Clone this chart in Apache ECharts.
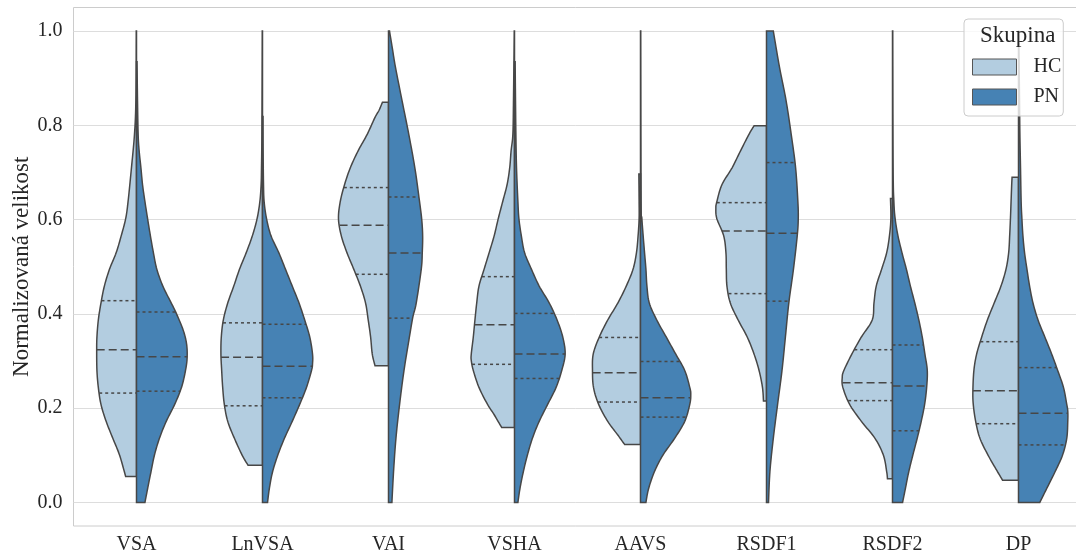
<!DOCTYPE html>
<html><head><meta charset="utf-8">
<script src="https://cdn.jsdelivr.net/npm/echarts@6/dist/echarts.min.js"></script>
<style>html,body{margin:0;padding:0;background:#fff}#chart{width:1076px;height:557px}</style>
</head><body><div id="chart"></div>
<script>
// ---------- data ----------
const categories = ['VSA', 'LnVSA', 'VAI', 'VSHA', 'AAVS', 'RSDF1', 'RSDF2', 'DP'];
const groups = ['HC', 'PN'];
const yTickValues = [0, 0.2, 0.4, 0.6, 0.8, 1.0];
const yTickLabels = ['0.0', '0.2', '0.4', '0.6', '0.8', '1.0'];

// density profiles: [value, half-width in category units], from data min to data max
const hcDensity = [
  [[0.055,0.086],[0.100,0.134],[0.136,0.188],[0.172,0.241],[0.208,0.282],[0.244,0.303],[0.280,0.314],[0.323,0.316],[0.351,0.314],[0.387,0.303],[0.423,0.282],[0.459,0.255],[0.495,0.214],[0.530,0.161],[0.566,0.121],[0.602,0.086],[0.638,0.067],[0.710,0.040],[0.781,0.016],[0.853,0.005],[1.0,0.002]],
  [[0.079,0.115],[0.100,0.161],[0.136,0.223],[0.172,0.276],[0.208,0.303],[0.244,0.316],[0.280,0.324],[0.315,0.330],[0.351,0.327],[0.387,0.311],[0.423,0.276],[0.459,0.228],[0.495,0.182],[0.530,0.129],[0.566,0.080],[0.602,0.043],[0.638,0.021],[0.674,0.011],[0.710,0.008],[0.781,0.005],[1.0,0.002]],
  [[0.290,0.107],[0.315,0.129],[0.351,0.142],[0.387,0.161],[0.423,0.182],[0.459,0.223],[0.495,0.276],[0.530,0.330],[0.566,0.375],[0.602,0.397],[0.638,0.383],[0.674,0.349],[0.710,0.303],[0.746,0.241],[0.781,0.169],[0.817,0.107],[0.832,0.075],[0.849,0.048]],
  [[0.159,0.102],[0.186,0.161],[0.208,0.214],[0.244,0.282],[0.280,0.327],[0.301,0.343],[0.315,0.343],[0.351,0.327],[0.387,0.314],[0.423,0.300],[0.459,0.282],[0.495,0.241],[0.530,0.201],[0.566,0.161],[0.602,0.129],[0.638,0.094],[0.674,0.059],[0.710,0.038],[0.746,0.027],[0.781,0.013],[0.853,0.008],[1.0,0.002]],
  [[0.123,0.126],[0.143,0.180],[0.172,0.260],[0.208,0.332],[0.244,0.373],[0.280,0.381],[0.315,0.375],[0.351,0.327],[0.387,0.260],[0.423,0.180],[0.459,0.113],[0.495,0.059],[0.530,0.032],[0.566,0.019],[0.602,0.011],[0.638,0.011],[0.697,0.013]],
  [[0.215,0.024],[0.244,0.032],[0.280,0.059],[0.315,0.099],[0.351,0.153],[0.387,0.225],[0.423,0.287],[0.459,0.314],[0.495,0.319],[0.530,0.322],[0.566,0.340],[0.602,0.394],[0.624,0.402],[0.638,0.394],[0.674,0.354],[0.710,0.273],[0.746,0.206],[0.781,0.139],[0.799,0.099]],
  [[0.050,0.040],[0.065,0.046],[0.100,0.072],[0.136,0.139],[0.172,0.247],[0.208,0.340],[0.244,0.394],[0.265,0.399],[0.280,0.386],[0.315,0.322],[0.351,0.247],[0.387,0.161],[0.423,0.147],[0.459,0.129],[0.495,0.086],[0.530,0.046],[0.566,0.024],[0.602,0.013],[0.645,0.016]],
  [[0.047,0.126],[0.065,0.166],[0.100,0.241],[0.136,0.306],[0.172,0.340],[0.208,0.359],[0.237,0.362],[0.280,0.354],[0.315,0.332],[0.351,0.292],[0.387,0.247],[0.423,0.193],[0.459,0.139],[0.495,0.099],[0.530,0.078],[0.566,0.070],[0.602,0.064],[0.638,0.059],[0.674,0.054],[0.690,0.051]]
];
const pnDensity = [
  [[0,0.067],[0.029,0.088],[0.065,0.115],[0.100,0.142],[0.136,0.182],[0.172,0.236],[0.208,0.303],[0.244,0.357],[0.280,0.389],[0.308,0.402],[0.337,0.397],[0.366,0.370],[0.401,0.316],[0.423,0.276],[0.459,0.209],[0.495,0.161],[0.530,0.134],[0.566,0.110],[0.602,0.088],[0.638,0.067],[0.674,0.048],[0.710,0.035],[0.746,0.021],[0.781,0.013],[0.853,0.008],[0.935,0.004]],
  [[0,0.040],[0.029,0.054],[0.065,0.080],[0.100,0.121],[0.136,0.174],[0.172,0.236],[0.208,0.295],[0.244,0.349],[0.280,0.389],[0.294,0.397],[0.315,0.397],[0.351,0.375],[0.387,0.335],[0.423,0.290],[0.459,0.236],[0.495,0.182],[0.530,0.129],[0.566,0.067],[0.602,0.032],[0.638,0.013],[0.674,0.008],[0.746,0.005],[0.819,0.004]],
  [[0,0.027],[0.065,0.040],[0.136,0.059],[0.208,0.088],[0.280,0.123],[0.351,0.166],[0.393,0.193],[0.423,0.220],[0.495,0.260],[0.530,0.268],[0.566,0.271],[0.602,0.263],[0.649,0.241],[0.710,0.209],[0.781,0.161],[0.853,0.107],[0.925,0.054],[0.961,0.032],[1.0,0.008]],
  [[0,0.027],[0.029,0.043],[0.065,0.070],[0.100,0.102],[0.136,0.142],[0.172,0.196],[0.208,0.263],[0.244,0.330],[0.280,0.375],[0.315,0.402],[0.351,0.383],[0.387,0.338],[0.423,0.276],[0.459,0.196],[0.495,0.134],[0.530,0.080],[0.566,0.054],[0.602,0.035],[0.638,0.027],[0.710,0.016],[0.781,0.011],[0.853,0.008],[0.935,0.005]],
  [[0,0.043],[0.029,0.064],[0.065,0.110],[0.100,0.177],[0.136,0.271],[0.172,0.351],[0.208,0.391],[0.229,0.399],[0.244,0.391],[0.280,0.351],[0.315,0.279],[0.351,0.204],[0.387,0.129],[0.423,0.070],[0.459,0.051],[0.495,0.043],[0.530,0.032],[0.566,0.021],[0.602,0.011],[0.638,0.005],[1.0,0.002]],
  [[0,0.016],[0.065,0.027],[0.136,0.054],[0.208,0.088],[0.280,0.123],[0.351,0.150],[0.423,0.177],[0.495,0.214],[0.566,0.244],[0.602,0.252],[0.638,0.249],[0.710,0.231],[0.781,0.196],[0.853,0.155],[0.925,0.102],[1.0,0.054]],
  [[0,0.080],[0.029,0.102],[0.065,0.129],[0.100,0.161],[0.136,0.196],[0.172,0.228],[0.208,0.255],[0.244,0.271],[0.280,0.276],[0.315,0.257],[0.351,0.236],[0.387,0.209],[0.423,0.177],[0.459,0.142],[0.495,0.110],[0.530,0.075],[0.566,0.043],[0.602,0.021],[0.638,0.011],[0.710,0.005],[1.0,0.002]],
  [[0,0.169],[0.029,0.223],[0.065,0.290],[0.100,0.349],[0.136,0.383],[0.172,0.391],[0.194,0.391],[0.208,0.383],[0.244,0.357],[0.280,0.311],[0.315,0.263],[0.351,0.209],[0.387,0.155],[0.423,0.115],[0.459,0.088],[0.495,0.067],[0.530,0.048],[0.566,0.035],[0.602,0.027],[0.638,0.021],[0.710,0.016],[0.781,0.011],[0.853,0.008],[1.0,0.002]]
];
// quartiles [Q1, median, Q3]
const hcQuartiles = [[0.232,0.324,0.428],[0.205,0.308,0.381],[0.484,0.588,0.668],[0.293,0.377,0.479],[0.213,0.275,0.350],[0.443,0.576,0.636],[0.216,0.254,0.324],[0.167,0.237,0.341]];
const pnQuartiles = [[0.236,0.309,0.404],[0.222,0.289,0.378],[0.391,0.529,0.648],[0.263,0.315,0.401],[0.181,0.222,0.299],[0.427,0.571,0.721],[0.152,0.247,0.334],[0.122,0.189,0.286]];

// ---------- styling ----------
const FONT = "'Liberation Serif','Times New Roman',serif";
const TEXT = '#262626';
const EDGE = '#474747';
const COLORS = { HC: '#b3cde0', PN: '#4682b4' };

function spline(p, n) {
  const out = [];
  for (let i = 0; i < p.length - 1; i++) {
    const p0 = p[Math.max(i - 1, 0)], p1 = p[i], p2 = p[i + 1], p3 = p[Math.min(i + 2, p.length - 1)];
    for (let s = 0; s < n; s++) {
      const t = s / n, t2 = t * t, t3 = t2 * t;
      out.push([0, 1].map(k => 0.5 * ((2 * p1[k]) + (-p0[k] + p2[k]) * t +
        (2 * p0[k] - 5 * p1[k] + 4 * p2[k] - p3[k]) * t2 +
        (-p0[k] + 3 * p1[k] - 3 * p2[k] + p3[k]) * t3)));
    }
  }
  out.push(p[p.length - 1].slice());
  return out;
}
function widthAt(prof, v) {
  for (let i = 0; i < prof.length - 1; i++) {
    const a = prof[i], b = prof[i + 1];
    if (v >= a[0] && v <= b[0]) return a[1] + (b[1] - a[1]) * (v - a[0]) / (b[0] - a[0]);
  }
  return 0;
}
function makeRender(profiles, quartiles, side, fill) {
  return function (params, api) {
    const i = api.value(0);
    const prof = profiles[i];
    const band = api.size([1, 0])[0];
    const cx = api.coord([i, 0])[0];
    const raw = prof.map(d => [cx + side * d[1] * band, api.coord([i, d[0]])[1]]);
    const curve = spline(raw, 10).map(pt => [side < 0 ? Math.min(pt[0], cx) : Math.max(pt[0], cx), pt[1]]);
    const yBot = raw[0][1], yTop = raw[raw.length - 1][1];
    const poly = [[cx, yBot]].concat(curve, [[cx, yTop]]);
    const children = [{
      type: 'polygon', shape: { points: poly },
      style: { fill: fill, stroke: EDGE, lineWidth: 1.5, lineJoin: 'miter' }
    }];
    quartiles[i].forEach((q, k) => {
      const w = widthAt(prof, q) * band;
      const y = api.coord([i, q])[1];
      const xa = cx + side * w;
      children.push({
        type: 'line',
        shape: { x1: Math.min(xa, cx), y1: y, x2: Math.max(xa, cx), y2: y },
        style: { stroke: EDGE, lineWidth: 1.5, lineDash: k === 1 ? [8, 4] : [3, 3] }
      });
    });
    return { type: 'group', children: children };
  };
}

const chart = echarts.init(document.getElementById('chart'), null, { renderer: 'canvas' });
chart.setOption({
  animation: false,
  backgroundColor: '#ffffff',
  textStyle: { fontFamily: FONT },
  grid: { left: 73.5, top: 7.5, width: 1008, height: 518.5, show: true, borderColor: '#cccccc', borderWidth: 1,
          backgroundColor: 'transparent', containLabel: false, outerBoundsMode: 'none' },
  xAxis: {
    type: 'category', data: categories,
    axisLine: { show: false }, axisTick: { show: false }, splitLine: { show: false },
    axisLabel: { fontSize: 20, color: TEXT, margin: 9, fontFamily: FONT }
  },
  yAxis: {
    type: 'value', min: -0.05, max: 1.05,
    name: 'Normalizovaná velikost', nameLocation: 'middle', nameRotate: 90, nameGap: 40, nameMoveOverlap: false,
    nameTextStyle: { fontSize: 23, color: TEXT, fontFamily: FONT },
    axisLine: { show: false },
    axisTick: { show: false, customValues: yTickValues },
    axisLabel: {
      customValues: yTickValues, fontSize: 20, color: TEXT, margin: 11, fontFamily: FONT,
      formatter: v => { const k = yTickValues.findIndex(t => Math.abs(t - v) < 1e-9); return k >= 0 ? yTickLabels[k] : ''; }
    },
    splitLine: { show: true, lineStyle: { color: '#dddddd', width: 1 } }
  },
  legend: {
    data: groups.map(g => ({ name: g, itemStyle: { color: COLORS[g], borderColor: '#555555', borderWidth: 1 } })),
    orient: 'vertical', left: 964, top: 19, padding: [38, 2, 9, 8],
    itemWidth: 44, itemHeight: 16, itemGap: 10, icon: 'rect', selectedMode: false,
    textStyle: { fontFamily: FONT, fontSize: 20, color: TEXT, padding: [0, 0, 0, 12] },
    backgroundColor: 'rgba(255,255,255,0.8)', borderColor: '#cccccc', borderWidth: 1, borderRadius: 4, z: 10
  },
  graphic: [{
    type: 'text', left: 980, top: 24, z: 20,
    style: { text: 'Skupina', font: "23px 'Liberation Serif','Times New Roman',serif", fill: TEXT }
  }],
  series: [
    { name: 'HC', type: 'custom', coordinateSystem: 'cartesian2d', itemStyle: { color: COLORS.HC },
      renderItem: makeRender(hcDensity, hcQuartiles, -1, COLORS.HC), data: categories.map((c, i) => [i, 0]), z: 2 },
    { name: 'PN', type: 'custom', coordinateSystem: 'cartesian2d', itemStyle: { color: COLORS.PN },
      renderItem: makeRender(pnDensity, pnQuartiles, 1, COLORS.PN), data: categories.map((c, i) => [i, 0]), z: 2 }
  ]
});
</script></body></html>
